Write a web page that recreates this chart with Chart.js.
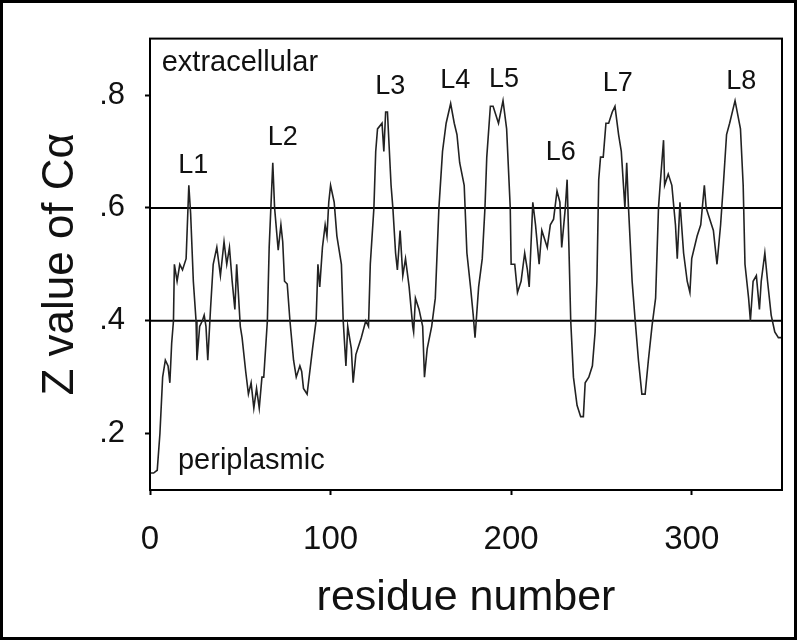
<!DOCTYPE html>
<html>
<head>
<meta charset="utf-8">
<script src="https://cdn.jsdelivr.net/npm/chart.js@4.4.1/dist/chart.umd.min.js"></script>
<style>
  body { margin: 0; background: #fff; }
  #wrap { width: 797px; height: 640px; }
</style>
</head>
<body>
<div id="wrap"><canvas id="zplot"></canvas></div>
<script>
// residue number and Z value of C-alpha
const residue = [0, 2, 4, 5.5, 7, 8.5, 10, 11, 12, 13, 13.5, 15, 16.5, 18, 20, 21.5, 22.5, 24, 25.5, 26,
  27.5, 29, 30, 31, 32, 33.5, 35, 37, 39, 41, 42.5, 44, 45.5, 47, 48, 50, 51, 53, 54.5, 56,
  57.5, 59, 60.5, 62, 63, 65, 66, 68, 69, 71, 72.5, 73.5, 74.5, 76, 77.5, 79.5, 81, 83, 84, 85,
  87, 90, 92, 93, 94, 95.5, 97, 98, 99, 100, 102, 103.5, 106, 107, 108.5, 109.5, 111.5, 112.5, 114, 117,
  119.5, 121, 122, 124, 125, 126, 128.5, 129.5, 130.5, 131.5, 133.5, 134.5, 136, 137, 138.5, 140, 141.5, 143.5, 145.5, 146,
  147, 149, 151, 152, 153.5, 156, 158, 160, 162, 164, 166.5, 168.5, 170, 171.5, 174, 175.5, 177.5, 179, 180, 182,
  184, 185.5, 186.5, 188.5, 190, 193, 195.5, 197.5, 199.5, 200, 202, 203.5, 205.5, 207.5, 209, 210, 212, 213.5, 215.5, 217,
  220, 221.7, 223.5, 225.4, 227, 228, 230, 231, 232, 233, 234.5, 236.5, 238.5, 240, 241, 243, 245, 246.5, 247.5, 248.5,
  249.5, 251, 252.5, 254, 256, 257.5, 259.5, 261, 263, 264, 265, 267, 268.7, 270.5, 272.4, 274.2, 276, 278, 280, 281.6,
  282.5, 284.4, 285, 287, 289, 291, 292, 293.5, 295.5, 297.5, 299, 300, 303, 305, 307, 308, 310, 312, 314, 316,
  317.5, 319.3, 321, 324, 327, 328.5, 329.5, 331.5, 332.5, 334, 335.8, 337.5, 338.5, 340.5, 342, 344, 346, 348, 350];
const zValue = [0.13, 0.13, 0.135, 0.2, 0.3, 0.33, 0.32, 0.29, 0.36, 0.40, 0.50, 0.47, 0.50, 0.49, 0.51, 0.64, 0.59, 0.47, 0.40, 0.33,
  0.39, 0.40, 0.41, 0.39, 0.33, 0.42, 0.50, 0.53, 0.48, 0.54, 0.50, 0.53, 0.47, 0.42, 0.50, 0.39, 0.37, 0.31, 0.27, 0.29,
  0.245, 0.28, 0.245, 0.30, 0.30, 0.40, 0.53, 0.68, 0.60, 0.525, 0.57, 0.54, 0.47, 0.465, 0.40, 0.33, 0.30, 0.32, 0.31, 0.28,
  0.27, 0.35, 0.40, 0.50, 0.46, 0.53, 0.57, 0.55, 0.61, 0.64, 0.61, 0.55, 0.50, 0.40, 0.32, 0.39, 0.35, 0.29, 0.34, 0.37,
  0.40, 0.39, 0.50, 0.60, 0.70, 0.74, 0.75, 0.70, 0.77, 0.77, 0.64, 0.60, 0.52, 0.49, 0.56, 0.48, 0.51, 0.46, 0.39, 0.38,
  0.44, 0.42, 0.39, 0.30, 0.35, 0.39, 0.44, 0.60, 0.70, 0.75, 0.785, 0.75, 0.73, 0.68, 0.64, 0.52, 0.46, 0.41, 0.37, 0.46,
  0.51, 0.60, 0.69, 0.78, 0.78, 0.75, 0.79, 0.74, 0.60, 0.50, 0.50, 0.45, 0.47, 0.52, 0.49, 0.46, 0.61, 0.57, 0.50, 0.56,
  0.53, 0.57, 0.58, 0.63, 0.61, 0.53, 0.60, 0.65, 0.53, 0.40, 0.30, 0.25, 0.23, 0.23, 0.29, 0.30, 0.32, 0.38, 0.47, 0.65,
  0.69, 0.69, 0.75, 0.75, 0.77, 0.78, 0.73, 0.70, 0.60, 0.68, 0.60, 0.47, 0.40, 0.33, 0.27, 0.27, 0.33, 0.39, 0.44, 0.60,
  0.64, 0.72, 0.64, 0.66, 0.64, 0.57, 0.51, 0.61, 0.52, 0.47, 0.45, 0.51, 0.55, 0.57, 0.64, 0.60, 0.58, 0.56, 0.50, 0.57,
  0.64, 0.73, 0.75, 0.79, 0.74, 0.64, 0.50, 0.44, 0.40, 0.47, 0.48, 0.42, 0.47, 0.52, 0.47, 0.41, 0.38, 0.37, 0.37];

const thresholds = [0.4, 0.6];
const xTicks = [0, 100, 200, 300];
const yTicks = [0.2, 0.4, 0.6, 0.8];
const loopNames = ['L1', 'L2', 'L3', 'L4', 'L5', 'L6', 'L7', 'L8'];
const loopResidue = [24, 73.5, 133, 169, 196, 227.5, 259, 327.5];

const FONT = '"Liberation Sans", Arial, sans-serif';

// label heights (in Z units) above each loop, and region captions
const decorOpts = {
  loopLabelZ: [0.661, 0.711, 0.802, 0.813, 0.815, 0.684, 0.807, 0.811],
  captions: [
    { text: 'extracellular', x: 6.5, y: 0.843 },
    { text: 'periplasmic', x: 15.5, y: 0.138 }
  ]
};

const decor = {
  id: 'decor',
  afterDraw(chart, args, opts) {
    const { ctx, chartArea: a, scales: { x, y } } = chart;
    ctx.save();
    ctx.strokeStyle = '#000';
    ctx.lineWidth = 2;
    ctx.strokeRect(a.left, a.top, a.right - a.left, a.bottom - a.top);
    ctx.lineWidth = 3;
    ctx.strokeRect(1.5, 1.5, chart.width - 3, chart.height - 3);

    ctx.fillStyle = '#111';
    ctx.textBaseline = 'alphabetic';
    ctx.font = '27px ' + FONT;
    ctx.textAlign = 'center';
    loopNames.forEach((t, i) => {
      ctx.fillText(t, x.getPixelForValue(loopResidue[i]), y.getPixelForValue(opts.loopLabelZ[i]));
    });
    ctx.font = '29px ' + FONT;
    ctx.textAlign = 'left';
    opts.captions.forEach(c => {
      ctx.fillText(c.text, x.getPixelForValue(c.x), y.getPixelForValue(c.y));
    });
    ctx.restore();
  }
};

const profile = residue.map((r, i) => ({ x: r, y: zValue[i] }));
const thresholdSets = thresholds.map(t => ({
  data: [{ x: 0, y: t }, { x: 350, y: t }],
  borderColor: '#000',
  borderWidth: 2,
  pointRadius: 0,
  showLine: true
}));

const config = {
  type: 'scatter',
  data: {
    datasets: [
      {
        data: profile,
        borderColor: '#222',
        borderWidth: 1.6,
        pointRadius: 0,
        showLine: true,
        tension: 0
      },
      ...thresholdSets
    ]
  },
  options: {
    responsive: true,
    maintainAspectRatio: false,
    animation: false,
    layout: {
      padding: { top: 35, right: 15, left: 0, bottom: 0 }
    },
    plugins: {
      legend: { display: false },
      tooltip: { enabled: false },
      decor: decorOpts
    },
    scales: {
      x: {
        type: 'linear',
        min: 0,
        max: 350,
        afterBuildTicks: s => { s.ticks = xTicks.map(v => ({ value: v })); },
        afterFit: s => { s.height = 150; },
        grid: { drawOnChartArea: false, drawTicks: true, tickLength: 5, tickColor: '#000', tickWidth: 2 },
        border: { display: true, color: '#000', width: 2 },
        ticks: {
          color: '#111',
          padding: 25,
          maxRotation: 0,
          font: { family: FONT, size: 33 }
        },
        title: {
          display: true,
          text: 'residue number',
          color: '#111',
          padding: { top: 0, bottom: 16 },
          font: { family: FONT, size: 43 }
        }
      },
      y: {
        type: 'linear',
        min: 0.1,
        max: 0.9,
        afterBuildTicks: s => { s.ticks = yTicks.map(v => ({ value: v })); },
        afterFit: s => { s.width = 150; },
        grid: { drawOnChartArea: false, drawTicks: true, tickLength: 5, tickColor: '#000', tickWidth: 2 },
        border: { display: true, color: '#000', width: 2 },
        ticks: {
          color: '#111',
          padding: 20,
          font: { family: FONT, size: 31 },
          callback: v => String(Math.round(v * 10) / 10).replace('0.', '.')
        },
        title: {
          display: true,
          text: 'Z value of Cα',
          color: '#111',
          padding: { top: 34, bottom: 0 },
          font: { family: FONT, size: 44 }
        }
      }
    }
  },
  plugins: [decor]
};

new Chart(document.getElementById('zplot'), config);
</script>
</body>
</html>
